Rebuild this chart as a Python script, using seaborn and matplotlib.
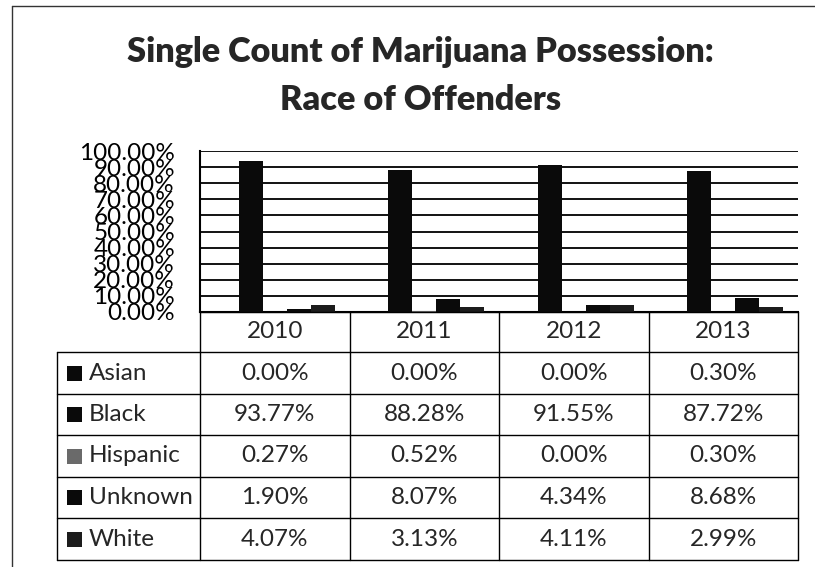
import matplotlib
matplotlib.use("Agg")
import matplotlib.pyplot as plt
from matplotlib.lines import Line2D
from matplotlib.patches import Rectangle
import pandas as pd
import seaborn as sns

# Share of single-count marijuana possession offenders by race, per year
years = ["2010", "2011", "2012", "2013"]
races = ["Asian", "Black", "Hispanic", "Unknown", "White"]
asian = [0.00, 0.00, 0.00, 0.30]
black = [93.77, 88.28, 91.55, 87.72]
hispanic = [0.27, 0.52, 0.00, 0.30]
unknown = [1.90, 8.07, 4.34, 8.68]
white = [4.07, 3.13, 4.11, 2.99]
y_ticks = [0, 10, 20, 30, 40, 50, 60, 70, 80, 90, 100]
colors = ["#0a0a0a", "#0a0a0a", "#6a6a6a", "#0a0a0a", "#1c1c1c"]

series = {"Asian": asian, "Black": black, "Hispanic": hispanic,
          "Unknown": unknown, "White": white}
df = pd.DataFrame([
    {"Year": y, "Race": r, "Share": series[r][i]}
    for r in races for i, y in enumerate(years)
])

sns.set_theme(style="white")
plt.rcParams["font.family"] = ["Lato", "DejaVu Sans"]

W, H = 815, 567
fig = plt.figure(figsize=(W / 100, H / 100), dpi=100)
fig.patch.set_facecolor("white")


def fx(px):
    return px / W


def fy(py):
    return 1 - py / H


# plot area in pixel terms
x0, x1 = 200, 798
y_top, y_bot = 151, 312
ax = fig.add_axes([fx(x0), fy(y_bot), fx(x1) - fx(x0), (y_bot - y_top) / H])

sns.barplot(data=df, x="Year", y="Share", hue="Race", hue_order=races,
            order=years, palette=colors, saturation=1, width=0.8,
            legend=False, ax=ax, zorder=3, linewidth=0)

ax.set_xlim(-0.5, len(years) - 0.5)
ax.set_ylim(0, 100)
ax.set_yticks(y_ticks)
ax.set_yticklabels([f"{t:.2f}%" for t in y_ticks], fontsize=17.5,
                   color="black")
ax.tick_params(axis="y", length=0, pad=18)
ax.set_xticks([])
ax.set_xlabel("")
ax.set_ylabel("")
ax.yaxis.grid(True, color="black", linewidth=1.3)
ax.set_axisbelow(True)
for side in ["top", "right"]:
    ax.spines[side].set_visible(False)
for side in ["left", "bottom"]:
    ax.spines[side].set_color("black")
    ax.spines[side].set_linewidth(1.5)
ax.set_facecolor("white")

# title
title_kw = dict(ha="center", va="center", fontsize=24.7, fontweight="heavy")
fig.text(fx(420), fy(52), "Single Count of Marijuana Possession:", **title_kw)
fig.text(fx(421), fy(100), "Race of Offenders", **title_kw)

# outer chart frame
frame_kw = dict(color="#333333", linewidth=1.0, transform=fig.transFigure)
fig.add_artist(Line2D([fx(12), fx(12)], [fy(567), fy(6)], **frame_kw))
fig.add_artist(Line2D([fx(12), fx(815)], [fy(6), fy(6)], **frame_kw))

# data table beneath the plot
row_edges = [312, 352, 394, 435, 477, 518, 560]
to_fig = fig.transFigure.inverted()
col_edges = []
for i in range(len(years) + 1):
    disp = ax.transData.transform((i - 0.5, 0))
    col_edges.append(to_fig.transform(disp)[0])
label_left = fx(57)
line_kw = dict(color="black", linewidth=1.0, transform=fig.transFigure)

# horizontal lines
fig.add_artist(Line2D([col_edges[0], col_edges[-1]],
                      [fy(row_edges[0]), fy(row_edges[0])], **line_kw))
for r in row_edges[1:]:
    fig.add_artist(Line2D([label_left, col_edges[-1]], [fy(r), fy(r)],
                          **line_kw))
# vertical lines
for c in col_edges:
    fig.add_artist(Line2D([c, c], [fy(row_edges[0]), fy(row_edges[-1])],
                          **line_kw))
fig.add_artist(Line2D([label_left, label_left],
                      [fy(row_edges[1]), fy(row_edges[-1])], **line_kw))

cell_fs = 17.5

# header row with the years
for i, y in enumerate(years):
    cx = (col_edges[i] + col_edges[i + 1]) / 2
    cy = fy((row_edges[0] + row_edges[1]) / 2)
    fig.text(cx, cy, y, ha="center", va="center", fontsize=cell_fs)

# series rows: legend key, name and values
for j, r in enumerate(races):
    cy = fy((row_edges[j + 1] + row_edges[j + 2]) / 2)
    key = Rectangle((fx(67), cy - 7.5 / H), 15 / W, 15 / H,
                    transform=fig.transFigure, facecolor=colors[j],
                    edgecolor="none")
    fig.add_artist(key)
    fig.text(fx(89), cy, r, ha="left", va="center", fontsize=cell_fs)
    for i in range(len(years)):
        cx = (col_edges[i] + col_edges[i + 1]) / 2
        fig.text(cx, cy, f"{series[r][i]:.2f}%", ha="center", va="center",
                 fontsize=cell_fs)

fig.savefig("out.png", dpi=100, facecolor="white")
